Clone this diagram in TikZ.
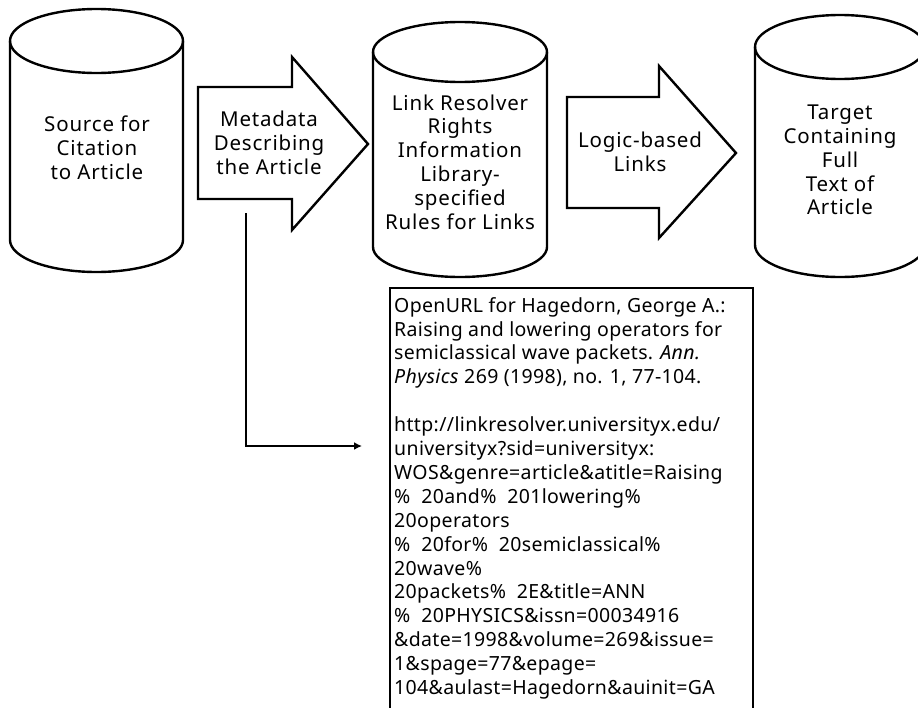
\documentclass[tikz,border=0pt]{standalone}
\usepackage{fontspec}
\setmainfont{Noto Sans}
\newfontfamily\labelfont[LetterSpace=4]{Noto Sans}
\newfontfamily\listfont[LetterSpace=1.8]{Noto Sans}
\usetikzlibrary{arrows.meta}

% draws an upright drum: centre x, x radius, top ellipse y, bottom ellipse y, y radius
\newcommand{\drumshape}[5]{%
  \draw[outline] (#1-#2,#3) -- (#1-#2,#4)
    arc[start angle=180, end angle=0, x radius=#2, y radius=#5] -- (#1+#2,#3);
  \draw[outline] (#1,#3) ellipse[x radius=#2, y radius=#5];
}

\begin{document}
\begin{tikzpicture}[x=1pt, y=-1pt,
  outline/.style={line width=2.4pt, line join=miter},
  label/.style={align=center, font=\labelfont\fontsize{20.5}{23.8}\selectfont, inner sep=0pt},
  listing/.style={align=left, font=\listfont\fontsize{19.5}{23.9}\selectfont, inner sep=0pt},
  feed/.style={line width=2pt, -{Latex[length=8pt,width=8pt]}}]
\useasboundingbox (0,0) rectangle (918,707);

% storage drums
\drumshape{96.5}{86.5}{41}{240}{32}
\drumshape{460}{87}{52}{247}{30}
\drumshape{840}{85}{47}{245}{32}

\node[label] (source) at (97,148) {Source for\\Citation\\to Article};
\node[label] (resolver) at (460,162) {Link Resolver\\Rights\\Information\\Library-\\specified\\Rules for Links};
\node[label] (target) at (840,160) {Target\\Containing\\Full\\Text of\\Article};

% block arrows
\draw[outline] (198,87) -- (292,87) -- (292,57) -- (368,144) -- (292,230) -- (292,199) -- (198,199) -- cycle;
\node[label] (metadata) at (269,143) {Metadata\\Describing\\the Article};

\draw[outline] (567,97) -- (659,97) -- (659,66) -- (736,153) -- (659,238) -- (659,208) -- (567,208) -- cycle;
\node[label] (logic) at (640,152) {Logic-based\\Links};

% OpenURL panel, running off the lower edge
\draw[outline] (390,712) -- (390,288) -- (753,288) -- (753,712);
\node[listing, anchor=north west] (openurl) at (394,297) {%
OpenURL for Hagedorn, George A.:\\
Raising and lowering operators for\\
semiclassical wave packets. \textit{Ann.}\\
\textit{Physics} 269 (1998), no. 1, 77-104.\\
\strut\\
http://linkresolver.universityx.edu/\\
universityx?sid=universityx:\\
WOS\&genre=article\&atitle=Raising\\
\%\ \ 20and\%\ \ 201lowering\%\\
20operators\\
\%\ \ 20for\%\ \ 20semiclassical\%\\
20wave\%\\
20packets\%\ \ 2E\&title=ANN\\
\%\ \ 20PHYSICS\&issn=00034916\\
\&date=1998\&volume=269\&issue=\\
1\&spage=77\&epage=\\
104\&aulast=Hagedorn\&auinit=GA};

% metadata feeds the OpenURL
\coordinate (drop) at (246,213);
\coordinate (bend) at (246,446);
\coordinate (feedend) at (362,446);
\draw[feed] (drop) -- (bend) -- (feedend);
\end{tikzpicture}
\end{document}
